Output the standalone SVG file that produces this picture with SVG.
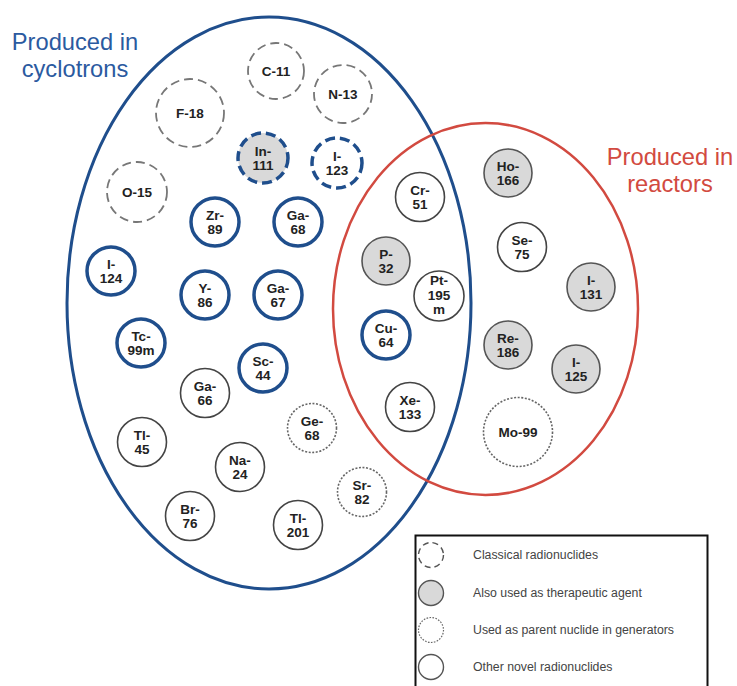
<svg xmlns="http://www.w3.org/2000/svg" width="737" height="686" viewBox="0 0 737 686">
  <style>
    .lbl { font-family: "Liberation Sans", Arial, sans-serif; font-size: 13.5px; font-weight: bold; fill: #222; text-anchor: middle; }
    .title { font-family: "Liberation Sans", Arial, sans-serif; font-size: 23.7px; text-anchor: middle; }
    .legend-text { font-family: "Liberation Sans", Arial, sans-serif; font-size: 12.3px; fill: #444; }
    .classical { fill: #fff; stroke: #777; stroke-width: 1.8; stroke-dasharray: 9 5; }
    .blue-dash { fill: #fff; stroke: #1f4e8c; stroke-width: 3.5; stroke-dasharray: 10 5; }
    .blue { fill: #fff; stroke: #1f4e8c; stroke-width: 3.5; }
    .thera { fill: #d9d9d9; stroke: #555; stroke-width: 1.6; }
    .novel { fill: #fff; stroke: #444; stroke-width: 1.6; }
    .gen { fill: #fff; stroke: #666; stroke-width: 1.6; stroke-dasharray: 2 1.6; }
  </style>
  <rect width="737" height="686" fill="#fff"/>

  <!-- production regions -->
  <g id="regions">
    <ellipse id="cyclotron-region" cx="269" cy="303" rx="202" ry="286" fill="none" stroke="#1f4e8c" stroke-width="3"/>
    <ellipse id="reactor-region" cx="485.5" cy="309" rx="152.5" ry="186" fill="none" stroke="#d24a40" stroke-width="2.5"/>
  </g>
  <g id="region-titles">
    <text class="title" x="75" y="50" fill="#2b5aa0">Produced in</text>
    <text class="title" x="75" y="77" fill="#2b5aa0">cyclotrons</text>
    <text class="title" x="670" y="165" fill="#d24a40">Produced in</text>
    <text class="title" x="670" y="192" fill="#d24a40">reactors</text>
  </g>

  <!-- connectors: none in this figure -->
  <g id="connectors"></g>

  <!-- classical radionuclides -->
  <g id="C-11"><circle class="classical" cx="276" cy="71" r="28"/><text class="lbl" x="276" y="76">C-11</text></g>
  <g id="N-13"><circle class="classical" cx="343" cy="94" r="29"/><text class="lbl" x="343" y="99">N-13</text></g>
  <g id="F-18"><circle class="classical" cx="190" cy="113" r="34"/><text class="lbl" x="190" y="118">F-18</text></g>
  <g id="O-15"><circle class="classical" cx="137" cy="192" r="30"/><text class="lbl" x="137" y="197">O-15</text></g>
  <g id="In-111"><circle class="blue-dash" style="fill:#d9d9d9" cx="263" cy="158" r="25"/><text class="lbl" x="263" y="155.5">In-</text><text class="lbl" x="263" y="169.5">111</text></g>
  <g id="I-123"><circle class="blue-dash" cx="337" cy="163" r="25"/><text class="lbl" x="337" y="160.5">I-</text><text class="lbl" x="337" y="174.5">123</text></g>

  <!-- cyclotron-produced novel nuclides -->
  <g id="Zr-89"><circle class="blue" cx="215" cy="222" r="24"/><text class="lbl" x="215" y="219.5">Zr-</text><text class="lbl" x="215" y="233.5">89</text></g>
  <g id="Ga-68-blue"><circle class="blue" cx="298" cy="222" r="24"/><text class="lbl" x="298" y="219.5">Ga-</text><text class="lbl" x="298" y="233.5">68</text></g>
  <g id="I-124"><circle class="blue" cx="111" cy="271" r="24"/><text class="lbl" x="111" y="268.5">I-</text><text class="lbl" x="111" y="282.5">124</text></g>
  <g id="Y-86"><circle class="blue" cx="205" cy="295" r="24"/><text class="lbl" x="205" y="292.5">Y-</text><text class="lbl" x="205" y="306.5">86</text></g>
  <g id="Ga-67"><circle class="blue" cx="278" cy="295" r="24"/><text class="lbl" x="278" y="292.5">Ga-</text><text class="lbl" x="278" y="306.5">67</text></g>
  <g id="Tc-99m"><circle class="blue" cx="141" cy="343" r="24"/><text class="lbl" x="141" y="340.5">Tc-</text><text class="lbl" x="141" y="354.5">99m</text></g>
  <g id="Sc-44"><circle class="blue" cx="263" cy="368" r="24"/><text class="lbl" x="263" y="365.5">Sc-</text><text class="lbl" x="263" y="379.5">44</text></g>
  <g id="Cu-64"><circle class="blue" cx="386" cy="335" r="24"/><text class="lbl" x="386" y="332.5">Cu-</text><text class="lbl" x="386" y="346.5">64</text></g>

  <!-- other novel radionuclides -->
  <g id="Ga-66"><circle class="novel" cx="205" cy="393" r="24.5"/><text class="lbl" x="205" y="390.5">Ga-</text><text class="lbl" x="205" y="404.5">66</text></g>
  <g id="Tl-45"><circle class="novel" cx="142" cy="442" r="24.5"/><text class="lbl" x="142" y="439.5">Tl-</text><text class="lbl" x="142" y="453.5">45</text></g>
  <g id="Na-24"><circle class="novel" cx="240" cy="467" r="24.5"/><text class="lbl" x="240" y="464.5">Na-</text><text class="lbl" x="240" y="478.5">24</text></g>
  <g id="Br-76"><circle class="novel" cx="190" cy="516" r="24.5"/><text class="lbl" x="190" y="513.5">Br-</text><text class="lbl" x="190" y="527.5">76</text></g>
  <g id="Tl-201"><circle class="novel" cx="298" cy="525" r="24.5"/><text class="lbl" x="298" y="522.5">Tl-</text><text class="lbl" x="298" y="536.5">201</text></g>
  <g id="Cr-51"><circle class="novel" cx="420" cy="197" r="24.5"/><text class="lbl" x="420" y="194.5">Cr-</text><text class="lbl" x="420" y="208.5">51</text></g>
  <g id="Se-75"><circle class="novel" cx="522" cy="247" r="24.5"/><text class="lbl" x="522" y="244.5">Se-</text><text class="lbl" x="522" y="258.5">75</text></g>
  <g id="Pt-195m"><circle class="novel" cx="439" cy="296" r="25"/><text class="lbl" x="439" y="285">Pt-</text><text class="lbl" x="439" y="299.5">195</text><text class="lbl" x="439" y="314">m</text></g>
  <g id="Xe-133"><circle class="novel" cx="410" cy="407" r="24.5"/><text class="lbl" x="410" y="404.5">Xe-</text><text class="lbl" x="410" y="418.5">133</text></g>

  <!-- therapeutic nuclides -->
  <g id="P-32"><circle class="thera" cx="386" cy="261" r="24"/><text class="lbl" x="386" y="258.5">P-</text><text class="lbl" x="386" y="272.5">32</text></g>
  <g id="Ho-166"><circle class="thera" cx="508" cy="173" r="24"/><text class="lbl" x="508" y="170.5">Ho-</text><text class="lbl" x="508" y="184.5">166</text></g>
  <g id="I-131"><circle class="thera" cx="591" cy="287" r="24"/><text class="lbl" x="591" y="284.5">I-</text><text class="lbl" x="591" y="298.5">131</text></g>
  <g id="Re-186"><circle class="thera" cx="508" cy="345" r="24"/><text class="lbl" x="508" y="342.5">Re-</text><text class="lbl" x="508" y="356.5">186</text></g>
  <g id="I-125"><circle class="thera" cx="576" cy="369" r="24"/><text class="lbl" x="576" y="366.5">I-</text><text class="lbl" x="576" y="380.5">125</text></g>

  <!-- generator parent nuclides -->
  <g id="Ge-68"><circle class="gen" cx="312" cy="428" r="24.5"/><text class="lbl" x="312" y="425.5">Ge-</text><text class="lbl" x="312" y="439.5">68</text></g>
  <g id="Sr-82"><circle class="gen" cx="362" cy="492" r="24.5"/><text class="lbl" x="362" y="489.5">Sr-</text><text class="lbl" x="362" y="503.5">82</text></g>
  <g id="Mo-99"><circle class="gen" cx="518" cy="432" r="34.5"/><text class="lbl" x="518" y="437">Mo-99</text></g>

  <!-- legend -->
  <g id="legend">
    <rect x="415.5" y="535.5" width="292" height="160" fill="#fff" stroke="#111" stroke-width="2"/>
    <circle cx="431" cy="555" r="12.5" fill="#fff" stroke="#555" stroke-width="1.4" stroke-dasharray="6 4"/>
    <circle cx="431" cy="593" r="12.5" fill="#d9d9d9" stroke="#555" stroke-width="1.4"/>
    <circle cx="431" cy="630" r="12.5" fill="#fff" stroke="#666" stroke-width="1.2" stroke-dasharray="1.6 1.4"/>
    <circle cx="431" cy="667" r="12.5" fill="#fff" stroke="#555" stroke-width="1.4"/>
    <text class="legend-text" x="473" y="559">Classical radionuclides</text>
    <text class="legend-text" x="473" y="597">Also used as therapeutic agent</text>
    <text class="legend-text" x="473" y="634">Used as parent nuclide in generators</text>
    <text class="legend-text" x="473" y="671">Other novel radionuclides</text>
  </g>
</svg>
